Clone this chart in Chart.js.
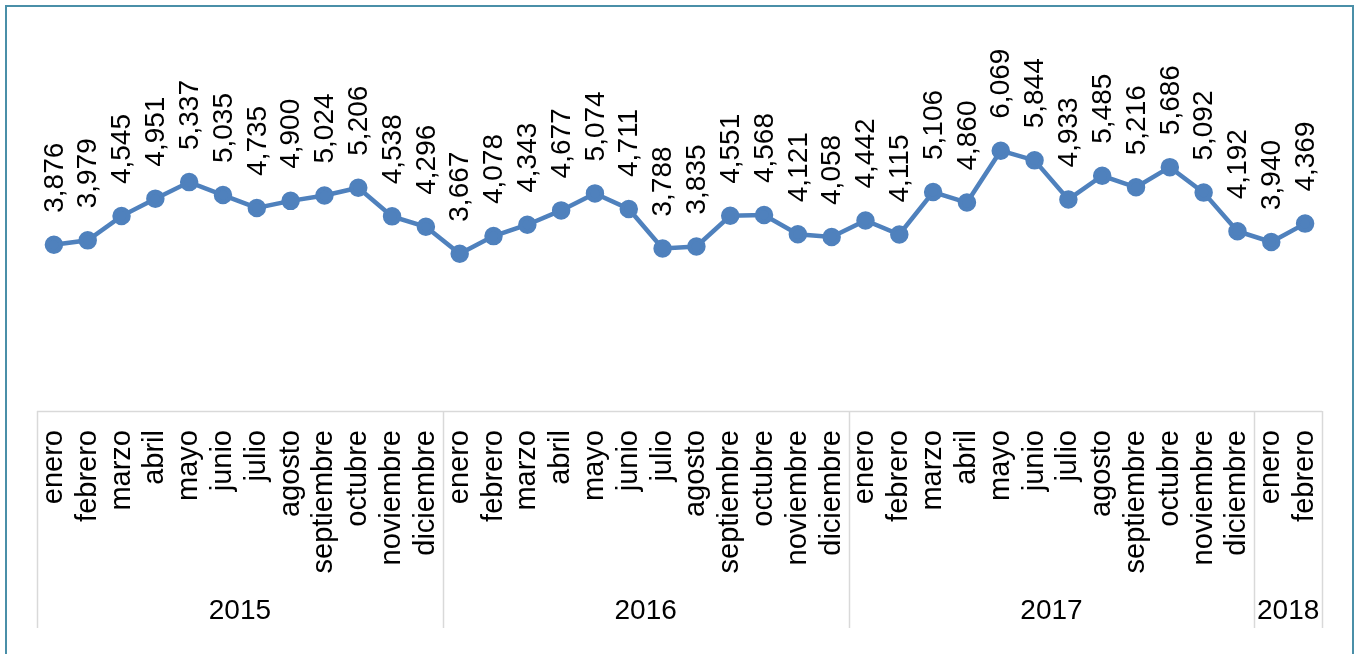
<!DOCTYPE html>
<html>
<head>
<meta charset="utf-8">
<script src="https://cdn.jsdelivr.net/npm/chart.js@4"></script>
<style>
  html, body { margin: 0; padding: 0; background: #fff; }
  #wrap { position: relative; width: 1358px; height: 654px; overflow: hidden; }
  #frame { position: absolute; left: 5px; top: 5px; width: 1345px; height: 700px; border: 2px solid #4a8fa8; }
  canvas { position: absolute; left: 0; top: 0; }
</style>
</head>
<body>
<div id="wrap">
  <div id="frame"></div>
  <canvas id="myChart" width="1358" height="654"></canvas>
</div>
<script>
// month labels and year groups
const months = ["enero","febrero","marzo","abril","mayo","junio","julio","agosto",
  "septiembre","octubre","noviembre","diciembre"]
const years = ["2015", "2016", "2017", "2018"]
const yearCounts = [12, 12, 12, 2]

const values2015 = [3876, 3979, 4545, 4951, 5337, 5035, 4735, 4900, 5024, 5206, 4538, 4296]
const values2016 = [3667, 4078, 4343, 4677, 5074, 4711, 3788, 3835, 4551, 4568, 4121, 4058]
const values2017 = [4442, 4115, 5106, 4860, 6069, 5844, 4933, 5485, 5216, 5686, 5092, 4192]
const values2018 = [3940, 4369]

let labels = []
yearCounts.forEach(n => { labels = labels.concat(months.slice(0, n)) })
let values = values2015.concat(values2016, values2017, values2018)

const font = "'Liberation Sans', Arial, sans-serif"
const grid = "#d9d9d9"

// data labels, rotated, above each point
const pointLabels = {
  id: "pointLabels",
  afterDatasetsDraw(chart) {
    const ctx = chart.ctx
    const meta = chart.getDatasetMeta(0)
    ctx.save()
    ctx.fillStyle = "#000"
    ctx.font = "28px " + font
    ctx.textAlign = "left"
    ctx.textBaseline = "middle"
    meta.data.forEach((pt, i) => {
      ctx.save()
      ctx.translate(pt.x, pt.y - 32)
      ctx.rotate(-Math.PI / 2)
      ctx.fillText(values[i].toLocaleString("en-US"), 0, 1)
      ctx.restore()
    })
    ctx.restore()
  }
}

// category box with year groups
const yearAxis = {
  id: "yearAxis",
  afterDraw(chart) {
    const ctx = chart.ctx
    const x = chart.scales.x
    const top = chart.chartArea.bottom
    const bottom = 628
    const half = (x.getPixelForValue(1) - x.getPixelForValue(0)) / 2
    ctx.save()
    ctx.strokeStyle = grid
    ctx.lineWidth = 1.5
    ctx.beginPath()
    ctx.moveTo(x.left, top + 0.5)
    ctx.lineTo(x.right, top + 0.5)
    ctx.stroke()
    ctx.fillStyle = "#000"
    ctx.font = "28px " + font
    ctx.textAlign = "center"
    ctx.textBaseline = "middle"
    let start = 0
    years.forEach((y, k) => {
      const end = start + yearCounts[k] - 1
      const x0 = x.getPixelForValue(start) - half
      const x1 = x.getPixelForValue(end) + half
      ctx.beginPath()
      ctx.moveTo(Math.round(x0) + 0.5, top)
      ctx.lineTo(Math.round(x0) + 0.5, bottom)
      if (k == years.length - 1) {
        ctx.moveTo(Math.round(x1) + 0.5, top)
        ctx.lineTo(Math.round(x1) + 0.5, bottom)
      }
      ctx.stroke()
      ctx.fillText(y, (x0 + x1) / 2, 611)
      start = end + 1
    })
    ctx.restore()
  }
}

new Chart("myChart", {
  type: "line",
  data: {
    labels: labels,
    datasets: [{
      data: values,
      borderColor: "#4f81bd",
      backgroundColor: "#4f81bd",
      borderWidth: 4.5,
      pointRadius: 7,
      pointHoverRadius: 7,
      lineTension: 0,
      fill: false
    }]
  },
  options: {
    responsive: false,
    animation: false,
    events: [],
    layout: { padding: { left: 37, right: 36, top: 25, bottom: 0 } },
    plugins: {
      legend: { display: false },
      tooltip: { enabled: false }
    },
    scales: {
      x: {
        offset: true,
        grid: { display: false },
        border: { display: false },
        ticks: {
          autoSkip: false,
          minRotation: 90,
          maxRotation: 90,
          padding: 11,
          color: "#000",
          font: { family: font, size: 29 }
        },
        afterFit(scale) { scale.height = 243 }
      },
      y: {
        display: false,
        min: 0,
        max: 9000
      }
    }
  },
  plugins: [pointLabels, yearAxis]
});
</script>
</body>
</html>
